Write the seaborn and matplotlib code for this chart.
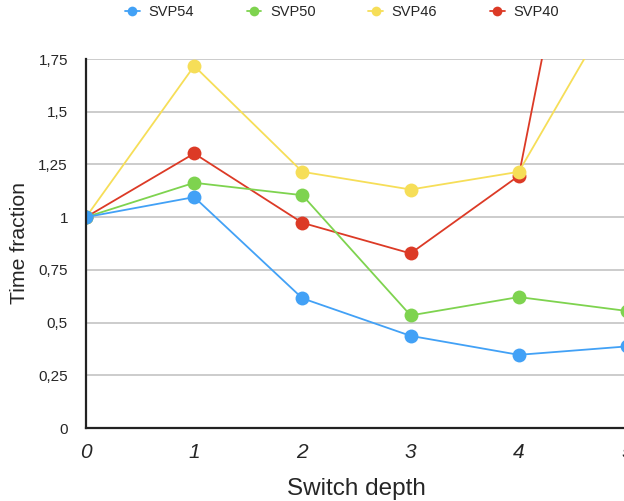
import numpy as np
import pandas as pd
import matplotlib
matplotlib.use("Agg")
import matplotlib.pyplot as plt
import seaborn as sns
from matplotlib.lines import Line2D

switch_depth = [0, 1, 2, 3, 4, 5]
svp54 = [1.0, 1.095, 0.615, 0.437, 0.347, 0.387]
svp50 = [1.0, 1.163, 1.104, 0.534, 0.621, 0.555]
svp46 = [1.0, 1.717, 1.215, 1.131, 1.215, 2.10]
svp40 = [1.0, 1.302, 0.973, 0.828, 1.196, 3.79]
series_names = ["SVP54", "SVP50", "SVP46", "SVP40"]
colors = ["#42A1F6", "#7ED34F", "#F6DE58", "#DC3A26"]
y_ticks = [0, 0.25, 0.5, 0.75, 1, 1.25, 1.5, 1.75]
y_tick_labels = ["0", "0,25", "0,5", "0,75", "1", "1,25", "1,5", "1,75"]
x_tick_labels = ["0", "1", "2", "3", "4", "5"]

rows = []
for name, vals in zip(series_names, [svp54, svp50, svp46, svp40]):
    for x, v in zip(switch_depth, vals):
        rows.append({"Switch depth": x, "Time fraction": v, "series": name})
df = pd.DataFrame(rows)

sns.set_style("white")
plt.rcParams["font.family"] = ["Liberation Sans", "DejaVu Sans"]

fig = plt.figure(figsize=(6.24, 5.01), dpi=100)
ax = fig.add_axes([86 / 624, 1 - 428 / 501, 541 / 624, (428 - 59) / 501])

# draw in reverse order so SVP54 ends up on top, as in the reference
draw_order = series_names[::-1]
color_map = dict(zip(series_names, colors))
sns.lineplot(data=df, x="Switch depth", y="Time fraction", hue="series",
             hue_order=draw_order, palette=[color_map[n] for n in draw_order],
             marker="o", markersize=10, markeredgewidth=0, linewidth=1.3,
             ax=ax, legend=False)

ax.set_xlim(0, 5)
ax.set_ylim(0, 1.75)
ax.set_yticks(y_ticks)
ax.set_yticklabels(y_tick_labels, fontsize=11)
ax.set_xticks(switch_depth)
ax.set_xticklabels(x_tick_labels, fontsize=15, style="italic")
ax.tick_params(axis="both", length=0)
ax.tick_params(axis="y", pad=13)
ax.tick_params(axis="x", pad=11)
ax.grid(axis="y", color="#C8C8C8", linewidth=1.3)
ax.set_axisbelow(True)
for s in ["top", "right"]:
    ax.spines[s].set_visible(False)
for s in ["left", "bottom"]:
    ax.spines[s].set_color("#222222")
    ax.spines[s].set_linewidth(1.6)
ax.set_xlabel("Switch depth", fontsize=17.5, labelpad=11)
ax.set_ylabel("Time fraction", fontsize=15.3, labelpad=7)

handles = [Line2D([0], [0], color=c, marker="o", markersize=7, linewidth=1.3,
                  markeredgewidth=0) for c in colors]
fig.legend(handles, series_names, loc="center", ncol=4, frameon=False,
           bbox_to_anchor=(342 / 624, 1 - 12.5 / 501), fontsize=10.5,
           handlelength=1.0, handletextpad=0.6, columnspacing=3.62)

fig.savefig("out.png", dpi=100)
